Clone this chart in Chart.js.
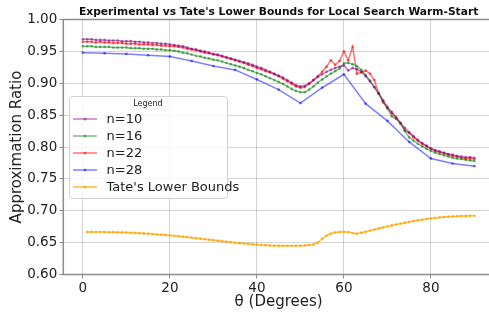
<!DOCTYPE html>
<html>
<head>
<meta charset="utf-8">
<script src="https://cdn.jsdelivr.net/npm/chart.js@4.4.1/dist/chart.umd.min.js"></script>
<style>
  html, body { margin: 0; padding: 0; background: #fff; overflow: hidden; }
  #wrap { width: 489px; height: 312px; overflow: hidden; }
</style>
</head>
<body>
<div id="wrap"><canvas id="myChart" width="498" height="312"></canvas></div>
<script>
// angles (degrees)
const thetaFine = Array.from({ length: 91 }, (_, i) => i);
const thetaTate = thetaFine.slice(1);
const thetaCoarse = [0, 5, 10, 15, 20, 25, 30, 35, 40, 45, 50, 55, 60, 65, 70, 75, 80, 85, 90];

const n10 = [
  .969, .969, .969, .968, .968, .968, .967, .967, .967, .966, .966,
  .966, .965, .965, .964, .964, .963, .963, .962, .962, .961,
  .960, .959, .958, .956, .954, .953, .951, .950, .948, .946,
  .945, .943, .941, .939, .937, .935, .933, .931, .929, .926,
  .924, .921, .918, .915, .912, .909, .905, .901, .897, .895,
  .896, .900, .905, .910, .914, .918, .921, .924, .926, .928,
  .920, .924, .922, .918, .911, .903, .894, .884, .873, .863,
  .855, .847, .838, .830, .823, .817, .811, .806, .802, .798,
  .795, .793, .791, .789, .788, .786, .785, .784, .784, .783
];
const n16 = [
  .958, .958, .958, .957, .957, .957, .957, .956, .956, .956, .956,
  .955, .955, .955, .954, .954, .954, .953, .953, .952, .952,
  .951, .950, .948, .947, .945, .943, .942, .940, .939, .937,
  .936, .934, .932, .930, .928, .926, .924, .921, .919, .916,
  .914, .911, .908, .905, .902, .899, .895, .891, .888, .886,
  .886, .890, .895, .901, .906, .911, .915, .919, .923, .931,
  .932, .930, .927, .921, .913, .904, .894, .884, .872, .861,
  .848, .844, .837, .825, .815, .810, .805, .801, .797, .794,
  .791, .789, .787, .785, .783, .782, .781, .780, .779, .778
];
const n22 = [
  .965, .965, .965, .964, .965, .964, .964, .963, .963, .963, .962,
  .962, .962, .961, .961, .961, .960, .960, .959, .959, .958,
  .958, .957, .956, .954, .953, .952, .950, .948, .947, .945,
  .944, .942, .940, .938, .936, .934, .932, .929, .927, .924,
  .922, .919, .917, .914, .911, .907, .903, .899, .895, .893,
  .894, .899, .905, .911, .918, .926, .936, .929, .935, .950,
  .936, .957, .915, .917, .920, .915, .905, .884, .870, .861,
  .853, .845, .837, .826, .822, .815, .810, .805, .801, .797,
  .794, .792, .790, .788, .786, .785, .783, .782, .782, .781
];
const n28 = [.948, .947, .946, .944, .942, .935, .927, .921, .906, .890, .869,
  .893, .914, .868, .841, .808, .782, .774, .770];
const tate = [
  .6667, .6667, .6666, .6666, .6665, .6664, .6663, .6661, .6659, .6657,
  .6654, .6651, .6647, .6643, .6639, .6634, .6629, .6624, .6618, .6612,
  .6606, .6599, .6592, .6585, .6578, .6570, .6562, .6554, .6546, .6538,
  .6530, .6522, .6514, .6506, .6499, .6492, .6485, .6479, .6473, .6468,
  .6463, .6459, .6456, .6453, .6451, .6450, .6450, .6450, .6451, .6453,
  .6456, .6461, .6470, .6500, .6560, .6610, .6640, .6660, .6668, .6670,
  .6665, .6650, .6640, .6655, .6670, .6688, .6705, .6722, .6738, .6754,
  .6769, .6784, .6798, .6812, .6825, .6838, .6850, .6861, .6871, .6880,
  .6888, .6895, .6901, .6906, .6910, .6913, .6916, .6918, .6920, .6921
];

const xTicks = [0, 20, 40, 60, 80];
const yTicks = [0.60, 0.65, 0.70, 0.75, 0.80, 0.85, 0.90, 0.95, 1.00];

function pts(xs, ys) {
  return ys.map((y, i) => ({ x: xs[i], y: y }));
}

function series(label, xs, ys, color) {
  return {
    label: label,
    data: pts(xs, ys),
    borderColor: color,
    backgroundColor: color,
    pointBackgroundColor: color,
    pointBorderWidth: 0,
    pointRadius: 1.4,
    borderWidth: 1.5,
    tension: 0
  };
}

const FONT = 'DejaVu Sans';

// frame (left/top/bottom; the right side falls outside the picture) + legend box
const framePlugin = {
  id: 'frame',
  beforeDatasetsDraw(chart) {
    const { ctx, chartArea: a } = chart;
    ctx.save();
    ctx.strokeStyle = '#8c8c8c';
    ctx.lineWidth = 1.5;
    ctx.beginPath();
    ctx.moveTo(a.right + 5, a.top);
    ctx.lineTo(a.left, a.top);
    ctx.lineTo(a.left, a.bottom);
    ctx.lineTo(a.right + 5, a.bottom);
    ctx.stroke();
    ctx.restore();
  },
  afterDraw(chart) {
    const ctx = chart.ctx;
    const bx = 69, by = 96, bw = 158, bh = 102;
    ctx.save();
    ctx.fillStyle = 'rgba(255,255,255,0.8)';
    ctx.strokeStyle = '#d0d0d0';
    ctx.lineWidth = 1;
    ctx.beginPath();
    ctx.roundRect(bx + 0.5, by + 0.5, bw, bh, 3);
    ctx.fill();
    ctx.stroke();
    ctx.fillStyle = '#222';
    ctx.textAlign = 'center';
    ctx.textBaseline = 'middle';
    ctx.font = '8px ' + FONT;
    ctx.fillText('Legend', bx + bw / 2, by + 8);
    ctx.font = '13px ' + FONT;
    ctx.textAlign = 'left';
    chart.data.datasets.forEach((ds, i) => {
      const y = by + 23 + i * 17;
      ctx.strokeStyle = ds.borderColor;
      ctx.lineWidth = 1.5;
      ctx.beginPath();
      ctx.moveTo(73, y);
      ctx.lineTo(97, y);
      ctx.stroke();
      ctx.fillStyle = ds.borderColor;
      ctx.beginPath();
      ctx.arc(85, y, 1.5, 0, Math.PI * 2);
      ctx.fill();
      ctx.fillStyle = '#222';
      ctx.fillText(ds.label, 106.5, y + 0.5);
    });
    ctx.restore();
  }
};

const ctx = document.getElementById('myChart').getContext('2d');
new Chart(ctx, {
  type: 'line',
  data: {
    datasets: [
      series('n=10', thetaFine, n10, 'rgba(128,0,128,0.5)'),
      series('n=16', thetaFine, n16, 'rgba(0,128,0,0.5)'),
      series('n=22', thetaFine, n22, 'rgba(255,0,0,0.55)'),
      series('n=28', thetaCoarse, n28, 'rgba(0,0,255,0.5)'),
      series("Tate's Lower Bounds", thetaTate, tate, 'rgba(255,165,0,0.75)')
    ]
  },
  options: {
    responsive: false,
    animation: false,
    devicePixelRatio: 1,
    layout: { padding: { left: 0, right: 0, top: 0, bottom: 0 } },
    plugins: {
      legend: { display: false },
      tooltip: { enabled: false },
      title: {
        display: true,
        fullSize: false,
        text: "Experimental vs Tate's Lower Bounds for Local Search Warm-Start",
        color: '#111',
        font: { family: FONT, size: 10.7, weight: 'bold', lineHeight: 1.2 },
        padding: { top: 5.5, bottom: 1.2 }
      }
    },
    scales: {
      x: {
        type: 'linear',
        min: -4.5,
        max: 94.5,
        afterBuildTicks(scale) { scale.ticks = xTicks.map(v => ({ value: v })); },
        afterFit(scale) { scale.height = 37.5; },
        ticks: { color: '#222', font: { family: FONT, size: 13.5 }, padding: 2, maxRotation: 0 },
        grid: { color: 'rgba(0,0,0,0.17)', lineWidth: 1, tickLength: 4, tickColor: '#8c8c8c' },
        border: { display: false },
        title: {
          display: true,
          text: 'θ (Degrees)',
          color: '#222',
          font: { family: FONT, size: 15, lineHeight: 1.2 },
          padding: { top: 0, bottom: 1 }
        }
      },
      y: {
        min: 0.6,
        max: 1.0,
        afterBuildTicks(scale) { scale.ticks = yTicks.map(v => ({ value: v })); },
        afterFit(scale) { scale.width = 63.3; },
        ticks: {
          color: '#222',
          font: { family: FONT, size: 13.5 },
          padding: 2,
          callback: v => v.toFixed(2)
        },
        grid: { color: 'rgba(0,0,0,0.17)', lineWidth: 1, tickLength: 4, tickColor: '#8c8c8c' },
        border: { display: false },
        title: {
          display: true,
          text: 'Approximation Ratio',
          color: '#222',
          font: { family: FONT, size: 15, lineHeight: 1.2 },
          padding: { top: 8, bottom: 0 }
        }
      }
    }
  },
  plugins: [framePlugin]
});
</script>
</body>
</html>
